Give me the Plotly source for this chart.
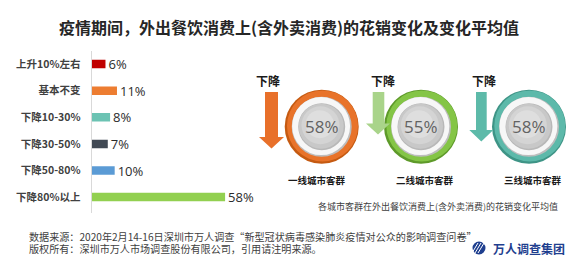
import plotly.graph_objects as go

# ---------------- data ----------------
categories = ["上升10%左右", "基本不变", "下降10-30%", "下降30-50%", "下降50-80%", "下降80%以上"]
values = [6, 11, 8, 7, 10, 58]
bar_colors = ["#C00000", "#ED7D31", "#6CC3B3", "#414954", "#5B9BD5", "#92D050"]

cities = ["一线城市客群", "二线城市客群", "三线城市客群"]
city_values = [58, 55, 58]
city_direction = ["下降", "下降", "下降"]

title_text = "疫情期间，外出餐饮消费上(含外卖消费)的花销变化及变化平均值"
caption_text = "各城市客群在外出餐饮消费上(含外卖消费)的花销变化平均值"
source_lines = [
    "数据来源：2020年2月14-16日深圳市万人调查“新型冠状病毒感染肺炎疫情对公众的影响调查问卷”",
    "版权所有：深圳市万人市场调查股份有限公司，引用请注明来源。",
]
logo_text = "万人调查集团"

# ---------------- layout constants ----------------
W, H = 573, 266
CJK = "Noto Sans CJK SC"

def px(x):
    return x / W

def py(y):
    return 1 - y / H

fig = go.Figure()
fig.add_trace(go.Bar(
    x=values, y=categories, orientation="h",
    marker=dict(color=bar_colors, line=dict(width=0)),
    width=0.32,
    text=[f"{v}%" for v in values], textposition="outside",
    constraintext="none",
    textfont=dict(family="Open Sans, " + CJK, size=13, color="#2B2B2B"),
    cliponaxis=False, hoverinfo="skip",
))

shapes = []
annotations = []

ring_cfg = [
    dict(cx=321.7, main="#E8732A", dark="#C55A11",
         arrow=dict(l=265, r=278, top=92, hl=259, hr=284, hy=137, tip=148.5), acol="#E8702A",
         dx=268, lx=317),
    dict(cx=421.0, main="#84C546", dark="#5E9A2A",
         arrow=dict(l=372.7, r=384.3, top=92, hl=366, hr=390, hy=123.5, tip=134.5), acol="#A9D48A",
         dx=383, lx=425),
    dict(cx=529.0, main="#5DB9AA", dark="#3E9486",
         arrow=dict(l=476, r=486.7, top=92, hl=469.3, hr=493.3, hy=130, tip=141.5), acol="#5DBAA9",
         dx=484, lx=533),
]
cy = 126.7

def circ(cx, cy_, r, fill, line=None, lw=0):
    return dict(type="circle", xref="paper", yref="paper",
                x0=px(cx - r), x1=px(cx + r), y0=py(cy_ + r), y1=py(cy_ - r),
                fillcolor=fill, line=dict(color=line or fill, width=lw), layer="above")

for i, cfg in enumerate(ring_cfg):
    cx = cfg["cx"]
    shapes.append(circ(cx, cy, 37, cfg["dark"]))
    shapes.append(circ(cx + 0.8, cy - 0.8, 35.5, cfg["main"]))
    shapes.append(circ(cx, cy, 30, "#BDBDBD"))
    shapes.append(circ(cx - 0.6, cy - 0.6, 29, "#F7F7F7"))
    shapes.append(circ(cx, cy, 23.5, "#B8B8B8"))
    shapes.append(circ(cx - 0.5, cy - 0.5, 22.5, "#C8C8C8"))
    shapes.append(circ(cx - 1.2, cy - 1.5, 19, "#D4D4D4"))
    shapes.append(circ(cx - 2, cy - 2.5, 14, "#DEDEDE"))
    a = cfg["arrow"]
    mid = (a["hl"] + a["hr"]) / 2
    path = (f"M {px(a['l'])},{py(a['top'])} L {px(a['r'])},{py(a['top'])} "
            f"L {px(a['r'])},{py(a['hy'])} L {px(a['hr'])},{py(a['hy'])} "
            f"L {px(mid)},{py(a['tip'])} L {px(a['hl'])},{py(a['hy'])} "
            f"L {px(a['l'])},{py(a['hy'])} Z")
    shapes.append(dict(type="path", xref="paper", yref="paper", path=path,
                       fillcolor=cfg["acol"], line=dict(width=0), layer="above"))
    annotations.append(dict(x=px(cx), y=py(cy), xref="paper", yref="paper",
                            text=f"{city_values[i]}%", showarrow=False,
                            font=dict(family="Open Sans", size=17, color="#636363"),
                            xanchor="center", yanchor="middle"))
    annotations.append(dict(x=px(cfg["dx"]), y=py(80), xref="paper", yref="paper",
                            text=f"<b>{city_direction[i]}</b>", showarrow=False,
                            font=dict(family=CJK, size=12, color="#1A1A1A"),
                            xanchor="center", yanchor="middle"))
    annotations.append(dict(x=px(cfg["lx"]), y=py(180), xref="paper", yref="paper",
                            text=f"<b>{cities[i]}</b>", showarrow=False,
                            font=dict(family=CJK, size=9.5, color="#1A1A1A"),
                            xanchor="center", yanchor="middle"))

annotations.append(dict(x=px(289), y=py(27), xref="paper", yref="paper",
                        text=f"<b>{title_text}</b>", showarrow=False,
                        font=dict(family=CJK, size=16, color="#262626"),
                        xanchor="center", yanchor="middle"))
annotations.append(dict(x=px(438), y=py(206), xref="paper", yref="paper",
                        text=caption_text, showarrow=False,
                        font=dict(family=CJK, size=9, color="#404040"),
                        xanchor="center", yanchor="middle"))
for j, line in enumerate(source_lines):
    annotations.append(dict(x=px(27), y=py(236.7 + 11.8 * j), xref="paper", yref="paper",
                            text=line, showarrow=False, align="left",
                            font=dict(family=CJK, size=10.1, color="#404040"),
                            xanchor="left", yanchor="middle"))
# logo
shapes.append(circ(479, 248, 6.5, "#1F3F8F"))
for k in range(3):
    off = -3 + 3 * k
    shapes.append(dict(type="line", xref="paper", yref="paper",
                       x0=px(475 + off), y0=py(253), x1=px(481 + off), y1=py(243),
                       line=dict(color="white", width=1), layer="above"))
annotations.append(dict(x=px(491), y=py(248.5), xref="paper", yref="paper",
                        text=f"<b>{logo_text}</b>", showarrow=False,
                        font=dict(family=CJK, size=12, color="#1F3F8F"),
                        xanchor="left", yanchor="middle"))

fig.update_layout(
    width=W, height=H, margin=dict(l=0, r=0, t=0, b=0),
    paper_bgcolor="white", plot_bgcolor="white", showlegend=False,
    xaxis=dict(domain=[0.16, 0.5], range=[0, 84.7], visible=False),
    yaxis=dict(domain=[0.2, 0.81], categoryorder="array", categoryarray=categories,
               range=[5.59, -0.51], showline=True, linecolor="#D9D9D9", linewidth=1,
               ticks="outside", ticklen=8, tickcolor="rgba(0,0,0,0)",
               showgrid=False, zeroline=False,
               tickfont=dict(family=CJK, size=10.5, color="#404040")),
    shapes=shapes, annotations=annotations,
)
fig.update_yaxes(ticktext=[f"<b>{c}</b>" for c in categories], tickvals=categories)

fig.write_html("out.html")
